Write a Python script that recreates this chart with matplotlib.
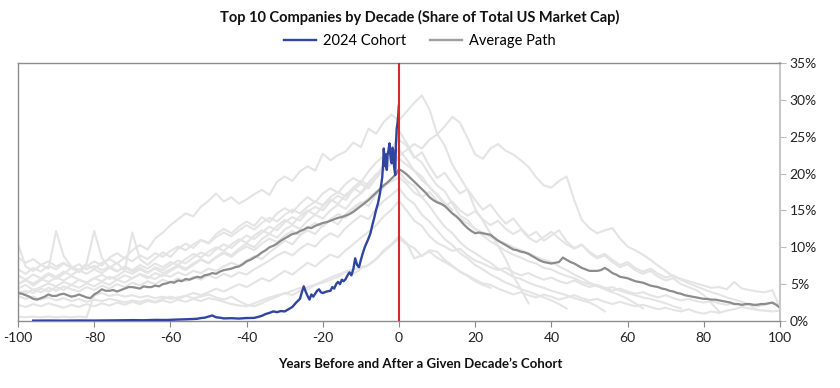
import numpy as np
import matplotlib
matplotlib.use("Agg")
import matplotlib.pyplot as plt
from matplotlib.lines import Line2D

plt.rcParams['font.family'] = ['Lato', 'DejaVu Sans']

title = "Top 10 Companies by Decade (Share of Total US Market Cap)"
xlabel = "Years Before and After a Given Decade\u2019s Cohort"
legend_labels = ["2024 Cohort", "Average Path"]
x_ticks = [-100, -80, -60, -40, -20, 0, 20, 40, 60, 80, 100]
y_ticks = [0, 5, 10, 15, 20, 25, 30, 35]

# Average path, one value per year from -100 to 100 (percent)
avg_start = -100
avg_path = [
    3.8, 3.7, 3.5, 3.3, 3.0, 2.9, 3.1, 3.3, 3.6, 3.4,
    3.4, 3.6, 3.7, 3.5, 3.3, 3.4, 3.6, 3.4, 3.2, 3.1,
    3.6, 3.9, 4.3, 4.1, 4.1, 4.2, 4.0, 4.2, 4.4, 4.6,
    4.6, 4.5, 4.4, 4.7, 4.6, 4.6, 4.8, 4.7, 5.0, 5.1,
    5.3, 5.2, 5.5, 5.4, 5.7, 5.6, 5.8, 6.0, 5.9, 6.2,
    6.3, 6.5, 6.4, 6.7, 6.9, 7.0, 7.1, 7.3, 7.4, 7.7,
    8.1, 8.3, 8.6, 8.9, 9.3, 9.6, 10.0, 10.2, 10.5, 10.9,
    11.2, 11.5, 11.8, 11.9, 12.2, 12.4, 12.7, 12.6, 12.9, 13.1,
    13.3, 13.4, 13.6, 13.8, 14.0, 14.1, 14.3, 14.5, 14.8, 15.2,
    15.6, 16.0, 16.4, 16.9, 17.4, 17.9, 18.4, 18.8, 19.3, 19.8,
    20.6, 20.3, 19.9, 19.4, 18.9, 18.4, 17.9, 17.4, 16.8, 16.4,
    16.1, 15.9, 15.6, 15.1, 14.6, 14.2, 13.7, 13.1, 12.6, 12.2,
    11.9, 12.0, 11.9, 11.8, 11.7, 11.3, 10.9, 10.6, 10.3, 10.0,
    9.7, 9.6, 9.4, 9.3, 9.1, 8.8, 8.5, 8.2, 8.0, 7.9,
    7.8, 7.9, 8.0, 8.6, 8.3, 8.0, 7.8, 7.5, 7.2, 7.0,
    6.8, 6.8, 6.8, 6.9, 7.2, 6.9, 6.5, 6.3, 6.0, 5.9,
    5.8, 5.6, 5.4, 5.3, 5.2, 5.0, 4.8, 4.7, 4.6, 4.4,
    4.3, 4.1, 4.0, 3.8, 3.7, 3.5, 3.4, 3.3, 3.2, 3.1,
    3.0, 3.0, 2.9, 2.9, 2.8, 2.7, 2.6, 2.5, 2.3, 2.3,
    2.2, 2.3, 2.3, 2.2, 2.2, 2.3, 2.3, 2.4, 2.5, 2.2,
    1.8,
]

# 2024 cohort
blue_years = [-96, -92, -88, -84, -80, -76, -72, -70, -67, -64, -61, -58, -55, -53,
              -52, -51, -50, -49, -48, -47, -46, -44, -42, -40, -38, -37, -36, -35,
              -34, -33, -32, -31, -30, -29, -28, -27, -26, -25.5, -25, -24.5, -24,
              -23.5, -23, -22.5, -22, -21.5, -21, -20.5, -20, -19, -18, -17.5, -17,
              -16.5, -16, -15.5, -15, -14.5, -14, -13.5, -13, -12.5, -12, -11.5, -11,
              -10.5, -10, -9.5, -9, -8.5, -8, -7.5, -7, -6.5, -6, -5.5, -5, -4.7,
              -4.4, -4.2, -4.0, -3.8, -3.6, -3.4, -3.2, -3.0, -2.8, -2.5, -2.3, -2.1,
              -1.9, -1.7, -1.5, -1.3, -1.1, -1.0, -0.8, -0.6, -0.4, -0.2, -0.05]
blue_share = [0.05, 0.06, 0.05, 0.07, 0.06, 0.08, 0.1, 0.12, 0.1, 0.15, 0.14, 0.2, 0.25, 0.3,
              0.4, 0.45, 0.6, 0.75, 0.5, 0.45, 0.35, 0.38, 0.33, 0.4, 0.42, 0.55, 0.7, 0.95,
              1.1, 1.3, 1.2, 1.35, 1.3, 1.6, 1.9, 2.5, 3.0, 3.9, 4.7, 4.0, 3.4,
              2.9, 3.6, 3.3, 3.7, 4.1, 4.3, 3.9, 3.8, 4.0, 4.1, 4.6, 4.4,
              5.0, 5.3, 5.0, 5.6, 5.4, 5.7, 6.2, 6.6, 6.2, 7.0, 8.5, 7.6,
              7.3, 8.3, 9.2, 10.0, 10.6, 11.2, 11.9, 13.0, 14.0, 15.1, 16.0, 17.3, 18.4,
              19.5, 21.0, 23.4, 22.0, 21.0, 22.6, 20.5, 22.5, 23.0, 24.1, 22.6, 21.8,
              21.4, 23.5, 23.2, 21.0, 20.2, 19.8, 24.0, 26.1, 26.8, 27.9, 29.2]

# Individual decade cohorts (percent, every 2 years from start)
g_starts = [-100, -100, -100, -100, -100, -100, -100, -100, -100, -100, -100, -100]
g1 = [5.0, 5.6, 4.8, 5.5, 6.3, 5.7, 6.4, 7.2, 6.6, 7.4, 8.1, 7.5, 8.6, 9.2, 8.5, 9.6, 10.3, 9.7,
      11.2, 12.0, 13.0, 13.8, 14.6, 14.2, 15.5, 16.3, 17.3, 16.2, 16.8, 15.9, 16.5, 17.2, 17.8,
      17.1, 18.9, 19.6, 19.0, 20.3, 21.0, 20.4, 22.7, 21.8, 22.5, 23.0, 24.2, 23.6, 26.1, 25.4,
      27.0, 28.0, 27.2, 28.4, 29.6, 30.6, 28.7, 25.4, 23.8, 21.2, 19.5, 17.8, 15.2, 13.6, 11.9,
      10.2, 8.4, 6.1, 4.3, 2.4]
g2 = [4.4, 4.9, 4.2, 4.6, 5.1, 4.7, 5.3, 4.9, 5.6, 5.2, 5.8, 6.3, 5.7, 6.1, 6.8, 6.4, 7.0, 6.5,
      7.3, 6.9, 7.6, 8.2, 7.8, 8.6, 9.3, 8.8, 9.7, 10.4, 9.9, 10.8, 11.6, 11.1, 12.0, 12.8, 12.3,
      13.4, 14.1, 13.6, 14.8, 15.5, 15.0, 16.2, 17.0, 16.4, 17.8, 18.6, 18.0, 19.4, 20.5, 21.3,
      22.4, 23.2, 24.0, 23.4, 24.6, 25.3, 26.4, 27.7, 26.9, 24.8, 22.6, 22.0, 23.4, 24.0, 23.1,
      22.6, 21.8, 20.9, 19.5, 18.4, 18.1, 19.0, 19.6, 16.4, 13.7, 12.6, 11.9, 12.3, 12.6, 11.2,
      10.1, 9.6, 9.0, 8.3, 7.5, 6.8, 6.0, 5.7, 5.4, 5.1, 4.8, 4.5, 4.6, 4.3, 5.3, 4.4, 4.2, 4.0,
      3.9, 4.2, 1.8]
g3 = [10.5, 7.4, 6.8, 7.6, 7.1, 12.2, 8.8, 7.4, 6.9, 7.8, 12.2, 8.6, 7.2, 7.9, 6.8, 12.0, 8.4,
      7.6, 8.5, 9.3, 8.7, 9.8, 10.5, 9.9, 11.0, 10.6, 11.8, 12.5, 11.9, 12.8, 13.5, 12.9, 14.1,
      13.4, 14.6, 15.3, 14.7, 15.9, 16.8, 16.1, 17.3, 18.0, 17.4, 18.6, 19.4, 18.8, 20.3, 21.5,
      22.4, 23.5, 24.6, 23.8, 22.1, 22.9, 21.0, 19.4, 20.1, 18.6, 17.3, 17.9, 16.4, 15.1, 15.8,
      14.4, 13.2, 13.9, 12.6, 11.5, 12.1, 10.9, 11.6, 12.3, 10.8, 9.9, 10.4, 9.2, 8.5, 8.9, 8.0,
      7.3, 7.7, 6.9, 6.4, 6.8, 6.0, 5.5, 5.8, 5.0, 4.6, 4.2, 3.5, 2.4, 1.3]
g4 = [3.6, 4.1, 3.8, 4.4, 4.0, 4.6, 4.2, 4.9, 4.5, 5.1, 4.7, 5.3, 4.9, 5.6, 5.2, 5.8, 6.3, 5.8,
      6.5, 6.1, 6.8, 7.4, 6.9, 7.6, 8.3, 7.8, 8.7, 9.4, 8.9, 9.8, 10.5, 10.0, 11.1, 11.8, 11.3,
      12.4, 13.0, 12.5, 13.6, 14.4, 13.9, 15.0, 15.8, 15.2, 16.5, 17.3, 18.4, 19.6, 21.2, 22.5,
      25.8, 24.1, 22.3, 21.5, 19.8, 18.4, 17.6, 15.9, 14.3, 13.7, 12.4, 11.6, 10.8, 10.2, 9.5,
      9.0, 8.6, 8.1, 7.8, 7.2, 7.0, 6.5, 6.1, 5.8, 5.3, 5.0, 4.7, 4.4, 4.6, 4.1, 3.8, 3.5, 3.2,
      3.0, 2.7, 2.4, 2.0, 1.7]
g5 = [7.0, 6.4, 7.2, 6.7, 7.5, 7.0, 7.8, 7.2, 6.8, 7.6, 7.1, 7.9, 8.4, 7.8, 8.6, 8.1, 8.9, 8.4,
      9.2, 8.7, 9.5, 10.1, 9.6, 10.4, 11.0, 10.5, 11.4, 12.0, 11.5, 12.3, 13.0, 12.4, 13.3, 14.0,
      13.5, 14.4, 15.1, 14.6, 15.5, 16.2, 15.7, 16.8, 17.5, 16.9, 18.1, 19.0, 18.4, 19.7, 20.6,
      21.4, 22.0, 21.2, 20.4, 19.1, 18.2, 17.0, 15.8, 14.6, 13.9, 13.2, 12.5, 12.0, 11.4, 10.9,
      10.5, 10.0, 9.6, 9.2, 8.7, 8.3, 8.0, 7.4, 6.9, 6.3, 5.8, 5.2, 4.8, 4.3, 3.9, 3.5, 3.0, 2.4,
      1.7]
g6 = [5.0, 5.5, 5.1, 5.7, 5.3, 5.9, 5.5, 6.1, 5.6, 5.2, 5.8, 5.4, 6.0, 5.6, 6.2, 5.8, 6.4, 6.0,
      5.7, 6.3, 6.0, 6.6, 6.2, 6.8, 6.5, 7.1, 6.8, 7.4, 7.9, 7.5, 8.2, 8.8, 8.4, 9.3, 10.1, 10.9,
      10.4, 11.6, 12.3, 11.8, 13.0, 13.7, 13.1, 14.5, 15.4, 16.1, 15.6, 17.2, 18.1, 19.3, 20.2,
      19.0, 18.3, 16.8, 15.6, 14.1, 12.8, 11.9, 10.7, 9.8, 9.2, 8.5, 7.9, 7.1, 6.6, 6.0, 5.7,
      5.2, 4.8, 4.5, 4.1, 3.8, 3.5, 3.1, 2.8, 2.5, 2.0, 1.3]
g7 = [4.1, 3.7, 4.3, 3.9, 4.5, 4.1, 4.7, 4.3, 4.0, 4.6, 4.2, 4.8, 4.4, 5.0, 4.6, 5.2, 4.8, 5.4,
      5.0, 5.6, 5.2, 5.8, 5.4, 6.0, 5.6, 6.2, 5.8, 6.4, 6.0, 6.6, 6.3, 7.0, 7.6, 8.2, 8.9, 9.4,
      8.9, 9.8, 10.5, 10.1, 11.2, 11.9, 11.4, 12.6, 13.5, 14.3, 13.8, 15.2, 16.3, 17.1, 18.0,
      16.7, 15.9, 14.4, 13.5, 12.3, 11.1, 10.3, 9.2, 8.5, 7.6, 7.0, 6.3, 5.8, 5.2, 4.8, 4.3, 4.0,
      3.6, 3.2, 2.8, 2.3, 1.7]
g8 = [0.6, 0.5, 0.6, 0.5, 0.6, 0.5, 0.6, 0.5, 0.6, 0.5, 3.5, 3.8, 3.4, 3.6, 3.3, 3.5, 3.2, 3.4,
      3.1, 3.3, 3.0, 3.2, 3.4, 3.1, 3.3, 3.6, 3.2, 2.9, 3.3, 2.7, 2.2, 2.0, 2.4, 2.9, 3.3, 3.8,
      3.5, 4.1, 4.6, 4.9, 5.2, 5.6, 6.0, 6.7, 7.0, 7.3, 7.6, 8.4, 9.4, 10.3, 11.2, 10.4, 9.9,
      8.8, 9.6, 9.4, 8.3, 7.5, 6.7, 6.2, 5.6, 5.1, 4.9, 4.4, 4.0, 3.6, 3.9, 3.5, 3.2, 3.6, 3.3,
      2.9, 3.2, 3.5, 3.1, 2.8, 3.0, 2.6, 2.3, 2.6, 2.3, 2.0, 2.2, 1.9, 1.6, 1.8, 1.5, 1.3, 1.6,
      1.2, 1.0, 1.3, 1.1, 1.4, 1.6, 1.9, 1.7, 1.5, 1.4, 1.3, 1.4]
g9 = [3.4, 3.0, 3.3, 2.9, 3.2, 2.8, 3.1, 2.7, 3.0, 2.6, 2.9, 2.7, 3.0, 2.8, 2.5, 2.8, 2.6, 2.9,
      2.6, 3.0, 3.3, 3.0, 3.4, 3.8, 3.5, 3.9, 4.4, 4.0, 4.5, 5.0, 4.6, 5.2, 5.8, 5.4, 6.1, 6.8,
      6.3, 7.1, 7.9, 7.4, 8.3, 9.0, 8.6, 9.6, 10.4, 11.3, 12.1, 13.0, 14.2, 15.1, 16.3, 15.0,
      13.6, 12.9, 11.5, 10.6, 10.1, 9.5, 9.8, 8.9, 8.2, 7.8, 7.3, 6.9, 7.2, 6.6, 6.2, 6.5, 6.0,
      5.6, 5.9, 5.4, 5.1, 5.5, 5.0, 4.6, 4.9, 4.5, 4.1, 4.4, 4.0, 3.7, 3.9, 3.5, 3.2, 3.5, 3.1,
      2.8, 3.0, 2.7, 2.5, 2.7, 2.4, 2.2, 2.4, 2.1, 2.3, 2.0, 2.2, 2.5, 2.0]
g10 = [2.2, 1.9, 2.3, 2.0, 2.4, 2.1, 1.8, 2.2, 1.9, 2.3, 2.0, 2.4, 2.1, 2.5, 2.2, 2.6, 2.3, 2.7,
       2.5, 2.8, 2.5, 2.9, 2.6, 3.0, 2.7, 3.1, 2.9, 2.6, 2.3, 2.1, 2.0, 2.4, 2.8, 3.2, 3.5, 3.7,
       4.1, 4.5, 4.3, 4.9, 5.4, 5.9, 6.3, 6.7, 6.4, 7.1, 7.6, 8.4, 9.6, 10.4, 11.5, 10.6, 8.5,
       8.9, 9.4, 8.6, 8.0, 7.4, 6.7, 6.1, 5.4, 4.9, 4.5]
g11 = [6.2, 5.6, 6.3, 5.8, 6.5, 6.0, 6.7, 6.2, 6.9, 6.4, 7.0, 6.5, 7.2, 6.7, 7.4, 6.9, 7.6, 7.1,
       7.8, 7.3, 8.0, 7.6, 8.4, 9.1, 8.6, 9.4, 10.0, 9.5, 10.4, 11.1, 10.6, 11.6, 12.3, 11.8,
       12.9, 13.7, 13.1, 14.2, 15.0, 14.4, 15.6, 16.5, 15.9, 17.1, 18.0, 17.4, 18.8, 19.9, 20.8,
       22.1, 23.3, 21.9, 20.4, 19.6, 18.1, 17.2, 16.0, 15.1]
g12 = [8.6, 7.9, 8.4, 7.6, 8.1, 7.4, 7.9, 7.2, 7.7, 7.0, 7.5, 6.9, 7.4, 6.8, 7.3, 6.7, 7.2, 6.6,
       7.1, 6.5, 7.0, 7.6, 7.1, 7.8, 8.4, 7.9, 8.6, 9.2, 8.7, 9.5, 10.1, 9.6, 10.5, 11.2, 10.7,
       11.6, 12.2, 11.7, 12.6, 13.3, 12.8, 13.8, 14.5, 14.0, 15.1, 15.9, 16.6, 17.5, 18.4, 18.9,
       19.5, 18.6, 17.4, 16.8, 17.5, 16.3, 15.6, 16.2, 15.0, 14.3, 14.9, 13.8, 13.0, 13.6, 12.5,
       11.8, 12.4, 11.3, 10.7, 11.4, 12.1, 11.2, 10.4, 9.8, 10.3, 9.4, 8.7, 9.1, 8.3, 7.6, 8.0,
       7.2, 6.7, 7.1, 6.4, 5.9, 6.2, 5.6, 5.1, 4.7, 4.3, 3.9, 3.6, 3.2, 2.9, 2.6, 2.2, 1.5]
cohorts = [g1, g2, g3, g4, g5, g6, g7, g8, g9, g10, g11, g12]

fig = plt.figure(figsize=(8.4, 3.88), dpi=100)
ax = fig.add_axes([18 / 840, 1 - 321 / 388, 762 / 840, 258 / 388])

for start, vals in zip(g_starts, cohorts):
    xs = start + 2 * np.arange(len(vals))
    ax.plot(xs, vals, color='#e4e4e4', lw=1.5, zorder=1, solid_joinstyle='round')

ax.plot(avg_start + np.arange(len(avg_path)), avg_path, color='#8c8c8c', lw=1.6, zorder=2)
ax.plot(blue_years, blue_share, color='#2f45a0', lw=1.7, zorder=3)
ax.axvline(0, color='#d22b2b', lw=1.5, zorder=4)

ax.set_xlim(-100, 100)
ax.set_ylim(0, 35)
ax.set_xticks(x_ticks)
ax.set_xticklabels([str(t) for t in x_ticks])
ax.yaxis.tick_right()
ax.set_yticks(y_ticks)
ax.set_yticklabels([f"{t}%" for t in y_ticks])
ax.tick_params(axis='x', length=4, color='#888888', labelsize=10, labelcolor='#222222', pad=4)
ax.tick_params(axis='y', length=4, color='#bbbbbb', labelsize=10, labelcolor='#222222', pad=3)

for side in ['left', 'top', 'bottom']:
    ax.spines[side].set_color('#8c8c8c')
    ax.spines[side].set_linewidth(1.0)
ax.spines['right'].set_color('#c8c8c8')
ax.spines['right'].set_linewidth(1.5)

fig.text(0.5, 1 - 17 / 388, title, ha='center', va='center', fontsize=10.5, fontweight='bold',
         color='#111111')
handles = [Line2D([], [], color='#2f45a0', lw=1.7), Line2D([], [], color='#a0a0a0', lw=1.7)]
fig.legend(handles, legend_labels, loc='center', bbox_to_anchor=(0.5, 1 - 41 / 388), ncol=2,
           frameon=False, fontsize=10.5, handlelength=2.2, columnspacing=1.6, handletextpad=0.5)
fig.text(0.5, 1 - 364 / 388, xlabel, ha='center', va='center', fontsize=9.5, fontweight='bold',
         color='#111111')

fig.savefig('out.png', dpi=100)
